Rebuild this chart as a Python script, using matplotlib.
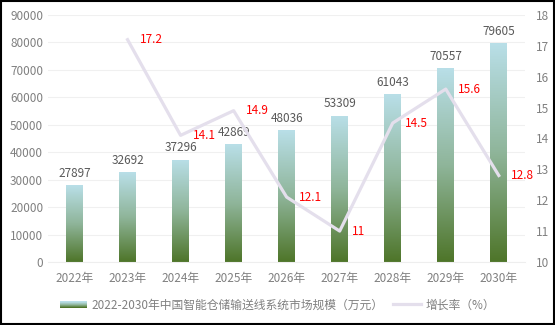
import matplotlib
matplotlib.use('Agg')
import matplotlib.pyplot as plt
import numpy as np
from matplotlib.colors import LinearSegmentedColormap
from matplotlib.patches import Rectangle
from matplotlib.lines import Line2D
from matplotlib.legend_handler import HandlerBase

plt.rcParams['font.family'] = ['Noto Sans CJK SC', 'DejaVu Sans']

# 数据
years = ['2022年', '2023年', '2024年', '2025年', '2026年', '2027年', '2028年', '2029年', '2030年']
market_size = [27897, 32692, 37296, 42869, 48036, 53309, 61043, 70557, 79605]
growth_years = ['2023年', '2024年', '2025年', '2026年', '2027年', '2028年', '2029年', '2030年']
growth_rate = [17.2, 14.1, 14.9, 12.1, 11, 14.5, 15.6, 12.8]

bar_label = '2022-2030年中国智能仓储输送线系统市场规模（万元）'
line_label = '增长率（%）'

# 渐变色: 底部深绿 -> 顶部浅蓝
cmap = LinearSegmentedColormap.from_list('grad', ['#4e7529', '#8fb59a', '#b9dfe8'])
line_color = '#e4dfec'
tick_color = '#808080'
text_color = '#595959'

fig = plt.figure(figsize=(5.55, 3.25), dpi=100)
ax = fig.add_axes([0.0865, 0.194, 0.86, 0.76])
ax2 = ax.twinx()

x = np.arange(len(years))
bars = ax.bar(x, market_size, width=0.32, color='none', edgecolor='none', zorder=2)
grad = np.linspace(0, 1, 256).reshape(-1, 1)
for b in bars:
    x0, y0 = b.get_x(), b.get_y()
    w, h = b.get_width(), b.get_height()
    im = ax.imshow(grad, cmap=cmap, origin='lower', aspect='auto',
                   extent=[x0, x0 + w, y0, y0 + h], zorder=2)
    im.set_clip_path(b)

for xi, v in zip(x, market_size):
    ax.annotate(str(v), (xi, v), xytext=(0, 4), textcoords='offset points',
                ha='center', va='bottom', fontsize=8.5, color=text_color)

ax.set_xlim(-0.5, len(years) - 0.5)
ax.set_ylim(0, 90000)
ax.set_yticks(range(0, 90001, 10000))
ax.set_xticks(x)
ax.set_xticklabels(years)
ax.grid(axis='y', color='#f0f0f0', linewidth=0.8, zorder=0)
ax.set_axisbelow(True)
for s in ['top', 'right', 'left']:
    ax.spines[s].set_visible(False)
ax.spines['bottom'].set_color('#eeeeee')
ax.tick_params(axis='both', length=0, colors=tick_color, labelsize=8.5)
ax.tick_params(axis='x', pad=7)

# 增长率折线
gx = [years.index(y) for y in growth_years]
ax2.plot(gx, growth_rate, color=line_color, linewidth=2.3, zorder=3)
for xi, v in zip(gx, growth_rate):
    ax2.annotate(f'{v:g}', (xi, v), xytext=(9, 0), textcoords='offset points',
                 ha='left', va='center', fontsize=8.5, color='#ff0000')
ax2.set_ylim(10, 18)
ax2.set_yticks(range(10, 19))
for s in ['top', 'right', 'left', 'bottom']:
    ax2.spines[s].set_visible(False)
ax2.tick_params(axis='y', length=0, colors=tick_color, labelsize=8.5, pad=8)


class GradientHandler(HandlerBase):
    def create_artists(self, legend, orig_handle, xdescent, ydescent,
                       width, height, fontsize, trans):
        arts = []
        n = 12
        for i in range(n):
            r = Rectangle((-xdescent, -ydescent + height * 0.1 + i * height * 0.7 / n),
                          width, height * 0.7 / n + 0.2,
                          facecolor=cmap(i / (n - 1)), edgecolor='none', transform=trans)
            arts.append(r)
        return arts


bar_handle = Rectangle((0, 0), 1, 1)
line_handle = Line2D([0], [0], color=line_color, linewidth=2.3)
fig.legend([bar_handle, line_handle], [bar_label, line_label],
           handler_map={Rectangle: GradientHandler()},
           loc='center', bbox_to_anchor=(0.5, 0.062), ncol=2, frameon=False,
           fontsize=8.5, labelcolor=tick_color, handlelength=2.3, handletextpad=0.4,
           columnspacing=0.8)

# 外框
fig.patches.append(Rectangle((0.001, 0.002), 0.997, 0.995, transform=fig.transFigure,
                             fill=False, edgecolor='black', linewidth=1.5))

plt.savefig('out.png', dpi=100)
